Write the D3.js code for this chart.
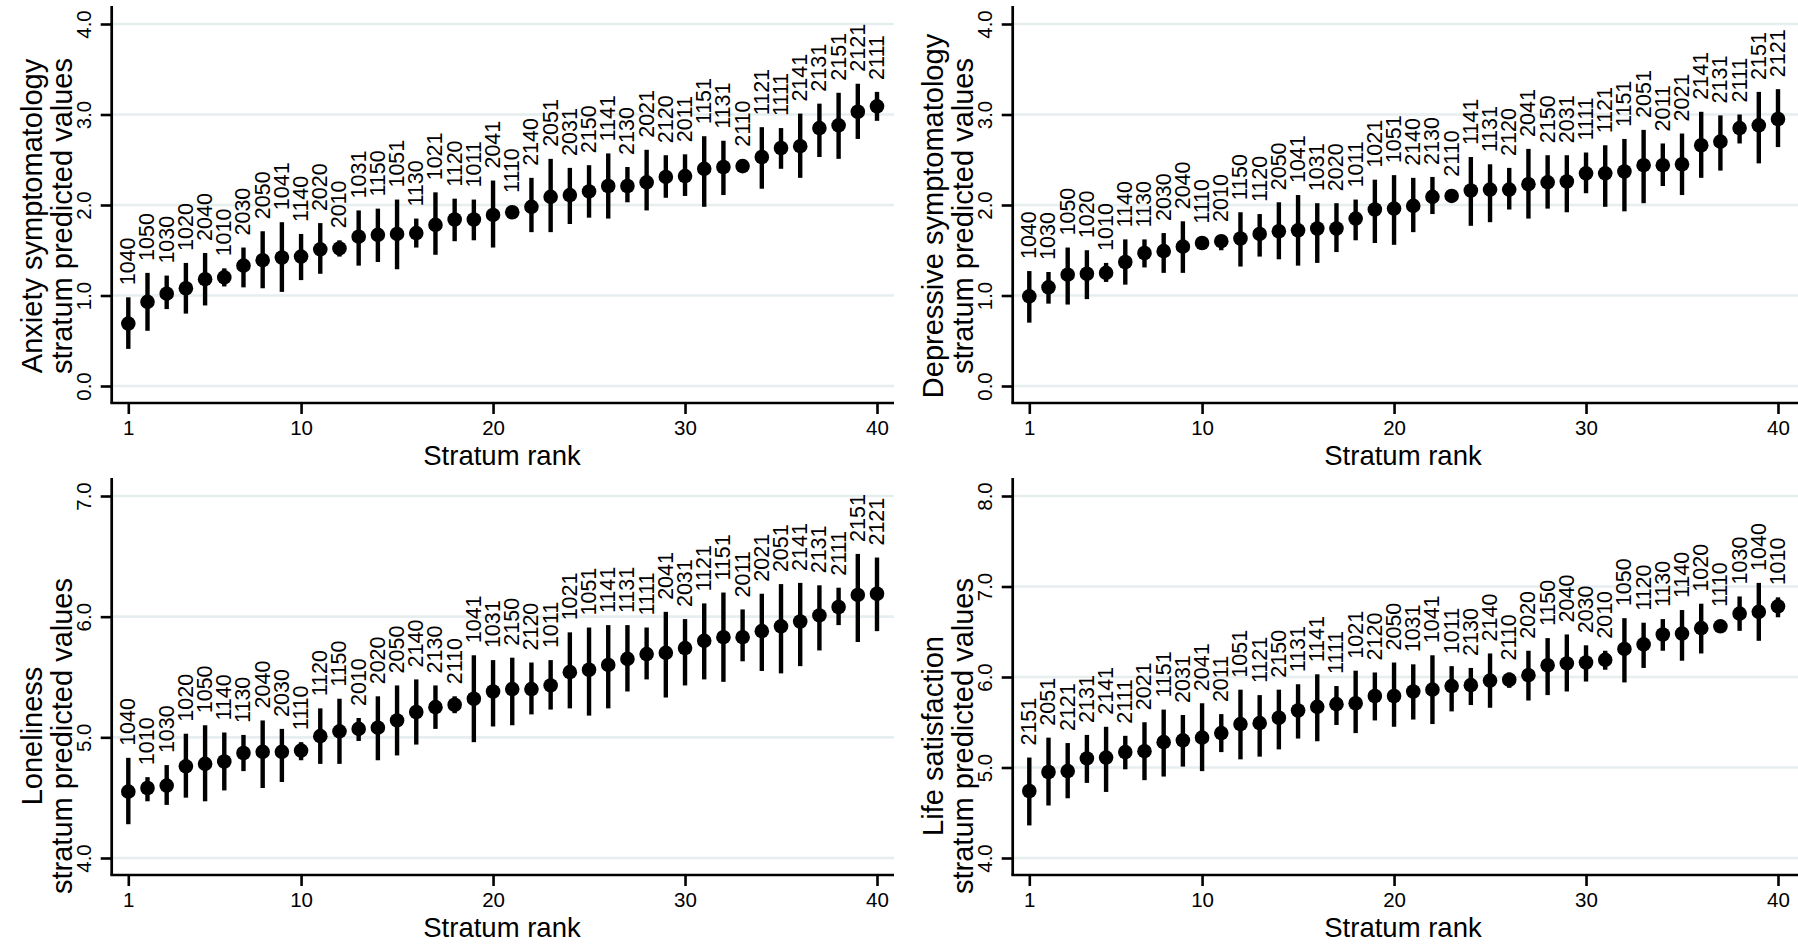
<!DOCTYPE html>
<html><head><meta charset="utf-8">
<script src="https://cdn.jsdelivr.net/npm/d3@7"></script>
<style>
html,body{margin:0;padding:0;background:#fff;}
svg{display:block;font-family:"Liberation Sans",Arial,Helvetica,sans-serif;}
</style></head>
<body>
<script>
const xTicks = [1, 10, 20, 30, 40];
const xTitle = "Stratum rank";

// Panel 1: Anxiety symptomatology
const anxTitle = ["Anxiety symptomatology", "stratum predicted values"];
const anxYTicks = [0, 1, 2, 3, 4];
const anxLabels = ["1040","1050","1030","1020","2040","1010","2030","2050","1041","1140","2020","2010","1031","1150","1051","1130","1021","1120","1011","2041","1110","2140","2051","2031","2150","1141","2130","2021","2120","2011","1151","1131","2110","1121","1111","2141","2131","2151","2121","2111"];
const anxEst = [0.69,0.93,1.02,1.08,1.18,1.20,1.33,1.39,1.42,1.43,1.51,1.52,1.65,1.67,1.68,1.69,1.78,1.84,1.84,1.89,1.92,1.98,2.09,2.11,2.15,2.21,2.21,2.25,2.31,2.32,2.40,2.42,2.43,2.53,2.63,2.65,2.85,2.88,3.03,3.09];
const anxLo = [0.41,0.61,0.85,0.80,0.89,1.10,1.09,1.08,1.04,1.17,1.24,1.43,1.33,1.37,1.29,1.53,1.45,1.60,1.61,1.53,1.88,1.70,1.70,1.79,1.86,1.85,2.03,1.94,2.08,2.10,1.98,2.11,2.39,2.18,2.40,2.30,2.53,2.51,2.73,2.93];
const anxHi = [0.98,1.25,1.22,1.36,1.47,1.30,1.53,1.71,1.81,1.68,1.80,1.61,1.94,1.96,2.06,1.85,2.14,2.07,2.06,2.27,1.95,2.30,2.51,2.41,2.44,2.57,2.42,2.61,2.55,2.56,2.76,2.71,2.47,2.86,2.85,3.01,3.12,3.24,3.34,3.25];

// Panel 2: Depressive symptomatology
const depTitle = ["Depressive symptomatology", "stratum predicted values"];
const depYTicks = [0, 1, 2, 3, 4];
const depLabels = ["1040","1030","1050","1020","1010","1140","1130","2030","2040","1110","2010","1150","1120","2050","1041","1031","2020","1011","1021","1051","2140","2130","2110","1141","1131","2120","2041","2150","2031","1111","1121","1151","2051","2011","2021","2141","2131","2111","2151","2121"];
const depEst = [0.99,1.09,1.23,1.24,1.25,1.37,1.47,1.49,1.54,1.58,1.60,1.63,1.68,1.71,1.72,1.74,1.74,1.85,1.95,1.96,1.99,2.09,2.10,2.16,2.17,2.17,2.23,2.25,2.26,2.35,2.35,2.37,2.44,2.44,2.45,2.66,2.70,2.85,2.88,2.95];
const depLo = [0.70,0.91,0.90,0.96,1.15,1.12,1.31,1.25,1.25,1.55,1.50,1.32,1.43,1.40,1.33,1.36,1.48,1.61,1.58,1.56,1.70,1.90,2.07,1.77,1.81,1.95,1.85,1.96,1.92,2.13,1.98,1.93,2.02,2.21,2.11,2.30,2.38,2.68,2.46,2.64];
const depHi = [1.27,1.26,1.53,1.50,1.36,1.62,1.62,1.69,1.82,1.62,1.65,1.92,1.90,2.03,2.11,2.02,2.02,2.06,2.28,2.33,2.30,2.31,2.14,2.53,2.45,2.41,2.62,2.55,2.55,2.58,2.66,2.73,2.83,2.68,2.79,3.03,2.99,3.00,3.25,3.28];

// Panel 3: Loneliness
const lonTitle = ["Loneliness", "stratum predicted values"];
const lonYTicks = [4, 5, 6, 7];
const lonLabels = ["1040","1010","1030","1020","1050","1140","1130","2040","2030","1110","1120","1150","2010","2020","2050","2140","2130","2110","1041","1031","2150","2120","1011","1021","1051","1141","1131","1111","2041","2031","1121","1151","2011","2021","2051","2141","2131","2111","2151","2121"];
const lonEst = [4.55,4.58,4.60,4.76,4.78,4.80,4.87,4.88,4.88,4.89,5.01,5.05,5.07,5.08,5.14,5.21,5.25,5.27,5.32,5.38,5.40,5.40,5.43,5.54,5.56,5.60,5.65,5.69,5.70,5.74,5.80,5.83,5.83,5.88,5.92,5.96,6.01,6.08,6.18,6.19];
const lonLo = [4.28,4.47,4.44,4.50,4.47,4.56,4.72,4.58,4.63,4.81,4.78,4.78,4.97,4.81,4.85,4.94,5.07,5.20,4.96,5.09,5.10,5.19,5.23,5.24,5.18,5.24,5.38,5.48,5.33,5.43,5.48,5.46,5.63,5.55,5.53,5.59,5.72,5.93,5.79,5.88];
const lonHi = [4.83,4.67,4.77,5.03,5.10,5.04,5.02,5.14,5.07,4.96,5.24,5.32,5.16,5.34,5.43,5.48,5.43,5.34,5.68,5.64,5.66,5.62,5.64,5.87,5.91,5.93,5.93,5.91,6.04,5.98,6.11,6.20,6.06,6.19,6.27,6.28,6.26,6.24,6.52,6.49];

// Panel 4: Life satisfaction
const lifTitle = ["Life satisfaction", "stratum predicted values"];
const lifYTicks = [4, 5, 6, 7, 8];
const lifLabels = ["2151","2051","2121","2131","2141","2111","2021","1151","2031","2041","2011","1051","1121","2150","1131","1141","1111","1021","2120","2050","1031","1041","1011","2130","2140","2110","2020","1150","2040","2030","2010","1050","1120","1130","1140","1020","1110","1030","1040","1010"];
const lifEst = [4.74,4.95,4.96,5.10,5.11,5.17,5.18,5.28,5.30,5.33,5.38,5.48,5.49,5.55,5.63,5.67,5.70,5.71,5.79,5.79,5.84,5.86,5.90,5.91,5.96,5.97,6.02,6.13,6.15,6.16,6.19,6.31,6.36,6.47,6.48,6.54,6.56,6.70,6.72,6.78];
const lifLo = [4.36,4.58,4.66,4.83,4.73,4.98,4.86,4.90,5.01,4.96,5.17,5.09,5.12,5.20,5.32,5.29,5.47,5.38,5.52,5.45,5.53,5.48,5.62,5.69,5.66,5.88,5.74,5.80,5.84,5.95,6.08,5.94,6.10,6.29,6.18,6.26,6.50,6.51,6.40,6.66];
const lifHi = [5.11,5.33,5.27,5.36,5.45,5.35,5.50,5.64,5.58,5.71,5.59,5.86,5.80,5.86,5.92,6.03,5.90,6.07,6.05,6.16,6.14,6.24,6.12,6.10,6.26,6.05,6.29,6.43,6.47,6.35,6.29,6.65,6.60,6.64,6.74,6.81,6.62,6.89,7.04,6.88];

const W = 1798, H = 946;
const svg = d3.select("body").append("svg").attr("width", W).attr("height", H);

const panels = [
  {title: anxTitle, ticks: anxYTicks, labels: anxLabels, est: anxEst, lo: anxLo, hi: anxHi, ox: 0, oy: 0, yc: 216},
  {title: depTitle, ticks: depYTicks, labels: depLabels, est: depEst, lo: depLo, hi: depHi, ox: 901, oy: 0, yc: 216},
  {title: lonTitle, ticks: lonYTicks, labels: lonLabels, est: lonEst, lo: lonLo, hi: lonHi, ox: 0, oy: 472, yc: 264},
  {title: lifTitle, ticks: lifYTicks, labels: lifLabels, est: lifEst, lo: lifLo, hi: lifHi, ox: 901, oy: 472, yc: 264}
];

const GRID = "#e6eef0";
panels.forEach((p, pi) => {
  const g = svg.append("g").attr("transform", `translate(${p.ox},${p.oy})`);
  const axX = 111.7, axY = 403, right = pi % 2 === 0 ? 894 : 897;
  const x = d3.scaleLinear().domain([1, 40]).range([128.3, 877]);
  const y = d3.scaleLinear().domain([p.ticks[0], p.ticks[p.ticks.length - 1]]).range([386, 24]);

  // gridlines
  g.selectAll("line.grid").data(p.ticks).join("line")
    .attr("x1", axX).attr("x2", right)
    .attr("y1", d => y(d)).attr("y2", d => y(d))
    .attr("stroke", GRID).attr("stroke-width", 2.6);

  // y axis
  const yAxis = d3.axisLeft(y).tickValues(p.ticks).tickSize(11).tickPadding(0).tickFormat(d3.format(".1f"));
  const ya = g.append("g").attr("transform", `translate(${axX},0)`).call(yAxis);
  ya.select(".domain").remove();
  ya.selectAll(".tick line").attr("stroke", "#000").attr("stroke-width", 2.6);
  ya.selectAll(".tick text").attr("fill", "#000").style("font-size", "20.5px")
    .attr("text-anchor", "middle").attr("dy", null).attr("x", null)
    .attr("transform", "translate(-28,0) rotate(-90)")
    .attr("dominant-baseline", "central");
  g.append("line").attr("x1", axX).attr("x2", axX).attr("y1", 6).attr("y2", axY)
    .attr("stroke", "#000").attr("stroke-width", 2.7);

  // x axis
  const xAxis = d3.axisBottom(x).tickValues(xTicks).tickSize(11).tickPadding(6).tickFormat(d3.format("d"));
  const xa = g.append("g").attr("transform", `translate(0,${axY})`).call(xAxis);
  xa.select(".domain").remove();
  xa.selectAll(".tick line").attr("stroke", "#000").attr("stroke-width", 2.6);
  xa.selectAll(".tick text").attr("fill", "#000").style("font-size", "20.5px");
  g.append("line").attr("x1", axX - 1.35).attr("x2", right).attr("y1", axY).attr("y2", axY)
    .attr("stroke", "#000").attr("stroke-width", 2.7);

  g.append("text").attr("x", 502).attr("y", 465).attr("text-anchor", "middle")
    .style("font-size", "27.5px").text(xTitle);

  // y title
  p.title.forEach((t, i) => {
    g.append("text").attr("transform", `translate(${[32, 62][i]},${p.yc}) rotate(-90)`)
      .attr("text-anchor", "middle").attr("dominant-baseline", "central")
      .style("font-size", "29px").text(t);
  });

  const idx = d3.range(p.est.length);
  // whiskers
  g.selectAll("line.ci").data(idx).join("line")
    .attr("x1", i => x(i + 1)).attr("x2", i => x(i + 1))
    .attr("y1", i => y(p.lo[i])).attr("y2", i => y(p.hi[i]))
    .attr("stroke", "#000").attr("stroke-width", 4.4);
  // markers
  g.selectAll("circle.pt").data(idx).join("circle")
    .attr("cx", i => x(i + 1)).attr("cy", i => y(p.est[i])).attr("r", 7.3).attr("fill", "#000");
  // labels
  g.selectAll("text.lab").data(idx).join("text")
    .attr("transform", i => `translate(${x(i + 1)},${Math.min(y(p.hi[i]), y(p.est[i]) - 7.3) - 12}) rotate(-90)`)
    .attr("text-anchor", "start").attr("dominant-baseline", "central")
    .style("font-size", "21.5px").text(i => p.labels[i]);
});
</script>
</body></html>
